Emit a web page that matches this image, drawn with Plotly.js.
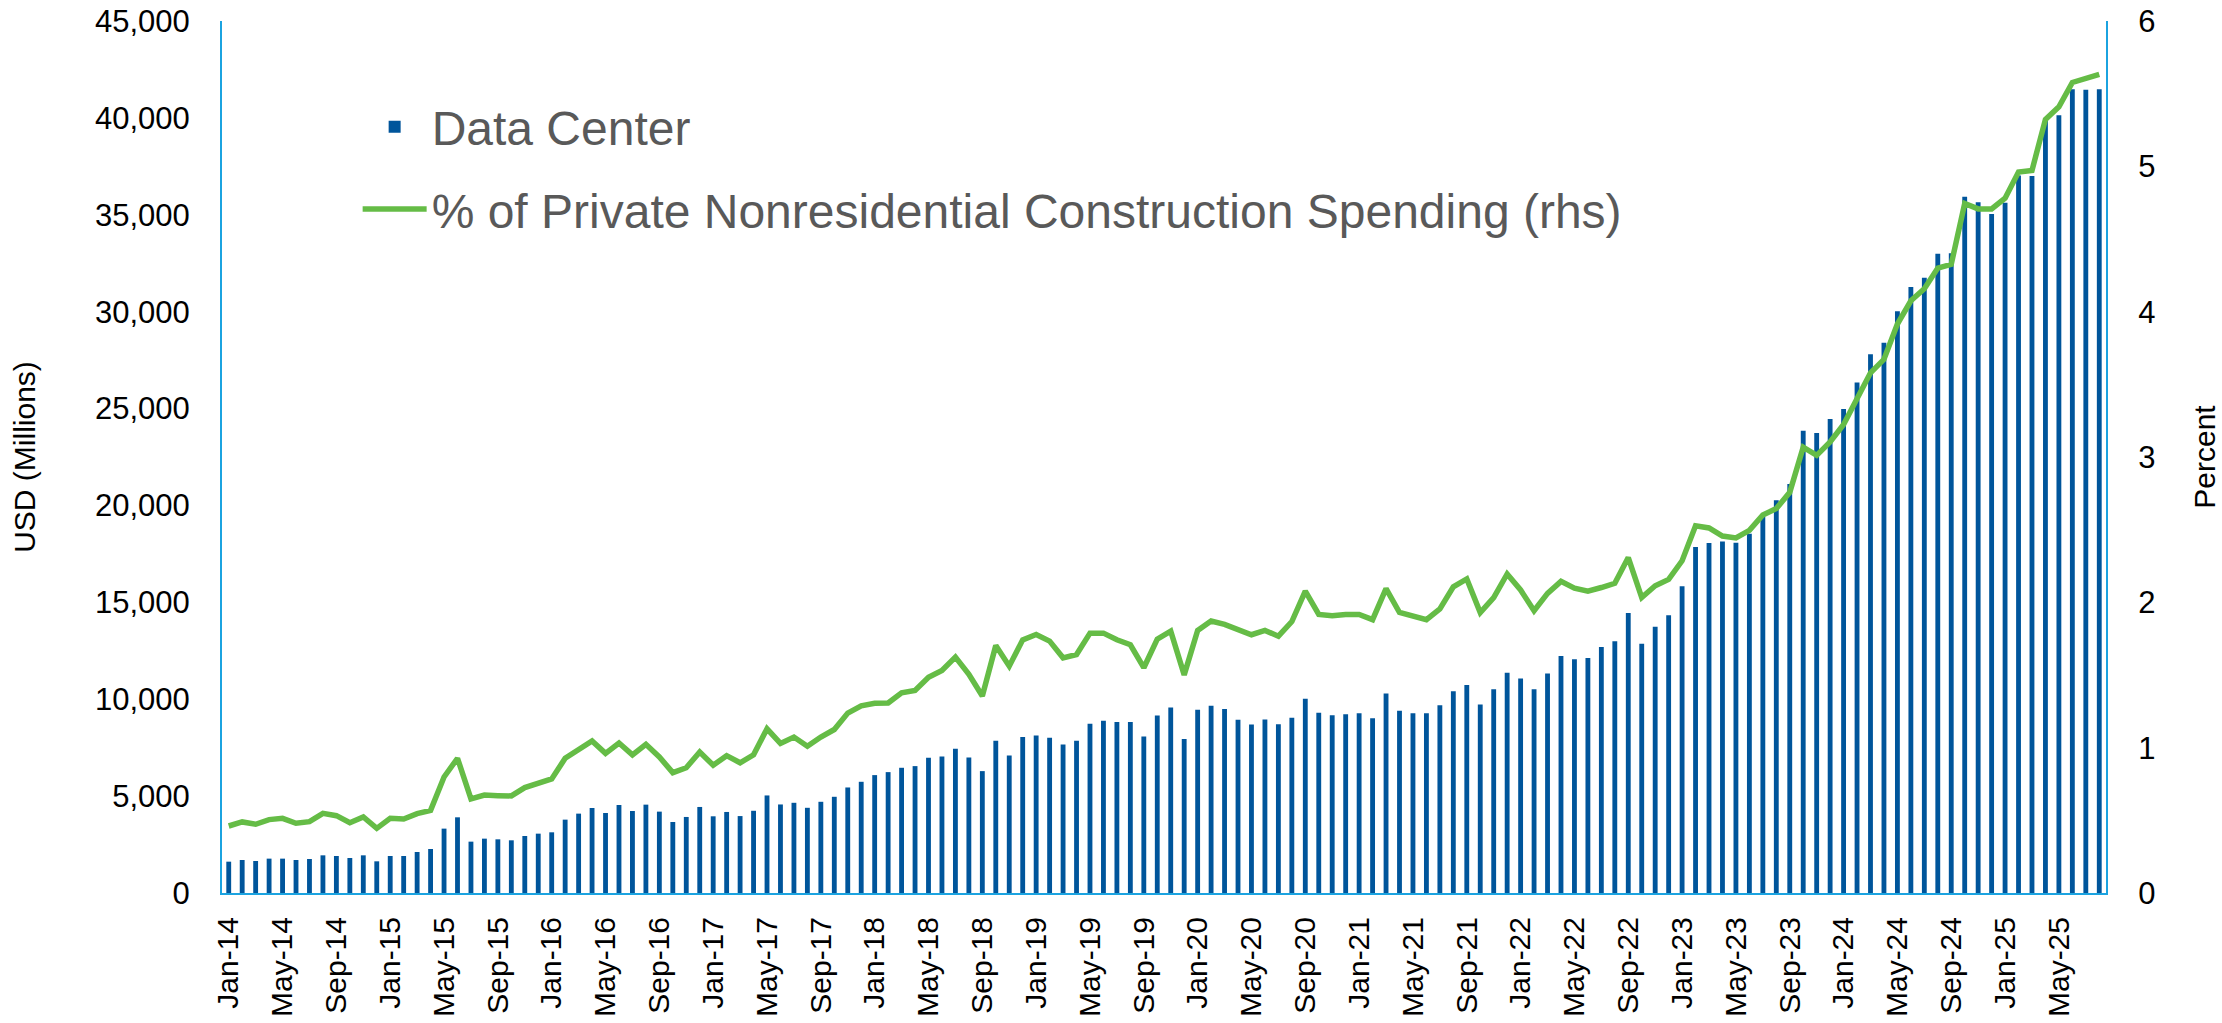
<!DOCTYPE html>
<html>
<head>
<meta charset="utf-8">
<script src="https://cdn.plot.ly/plotly-3.0.1.min.js"></script>
<style>
  html, body { margin: 0; padding: 0; background: #ffffff; }
  #chart { width: 2222px; height: 1023px; }
</style>
</head>
<body>
<div id="chart"></div>
<script>
// ---- Data ----
const monthNames = ["Jan","Feb","Mar","Apr","May","Jun","Jul","Aug","Sep","Oct","Nov","Dec"];
const years = ["14","15","16","17","18","19","20","21","22","23","24","25"];
const lastYearMonths = 8; // data runs through Aug-25

// Data Center construction spending, USD millions (left axis)
const dataCenter = [
  1617, 1704, 1652, 1773, 1773, 1704, 1755, 1944, 1910, 1807, 1944, 1635,
  1910, 1910, 2117, 2272, 3322, 3906, 2650, 2805, 2770, 2719, 2943, 3063,
  3132, 3786, 4096, 4388, 4130, 4543, 4233, 4560, 4199, 3665, 3924, 4440,
  3958, 4182, 3970, 4243, 5034, 4569, 4655, 4397, 4707, 4965, 5446, 5739,
  6084, 6238, 6462, 6548, 6978, 7047, 7442, 6995, 6290, 7855, 7098, 8045,
  8131, 8010, 7666, 7855, 8733, 8888, 8819, 8819, 8079, 9163, 9577, 7942,
  9456, 9662, 9491, 8939, 8690, 8948, 8708, 9041, 10018, 9299, 9170, 9225,
  9280, 9022, 10295, 9410, 9280, 9280, 9686, 10406, 10738, 9723, 10517, 11365,
  11070, 10517, 11328, 12232, 12066, 12122, 12694, 12989, 14446, 12860, 13745, 14336,
  15830, 17860, 18063, 18137, 18081, 18542, 19400, 20263, 21104, 23851, 23739, 24467,
  24972, 26345, 27803, 28391, 30017, 31278, 31755, 32988, 33016, 35930, 35650, 35034,
  35622, 37024, 37000, 39938, 40135, 41480, 41452, 41480
];

// % of private nonresidential construction spending (right axis)
const sharePct = [
  0.461, 0.489, 0.473, 0.505, 0.514, 0.480, 0.491, 0.548, 0.532, 0.484, 0.523, 0.445,
  0.514, 0.509, 0.546, 0.569, 0.798, 0.927, 0.647, 0.674, 0.670, 0.668, 0.725, 0.759,
  0.785, 0.927, 0.982, 1.046, 0.961, 1.032, 0.950, 1.023, 0.936, 0.828, 0.862, 0.970,
  0.879, 0.945, 0.896, 0.951, 1.130, 1.029, 1.073, 1.010, 1.073, 1.125, 1.238, 1.288,
  1.306, 1.308, 1.378, 1.394, 1.485, 1.531, 1.623, 1.504, 1.355, 1.703, 1.561, 1.742,
  1.779, 1.733, 1.618, 1.641, 1.788, 1.788, 1.742, 1.708, 1.550, 1.747, 1.802, 1.501,
  1.807, 1.871, 1.848, 1.811, 1.777, 1.807, 1.767, 1.868, 2.077, 1.917, 1.908, 1.917,
  1.917, 1.881, 2.094, 1.930, 1.910, 1.881, 1.954, 2.107, 2.161, 1.930, 2.033, 2.195,
  2.085, 1.942, 2.062, 2.144, 2.097, 2.077, 2.102, 2.131, 2.308, 2.033, 2.114, 2.158,
  2.286, 2.527, 2.512, 2.456, 2.443, 2.495, 2.601, 2.645, 2.757, 3.067, 3.011, 3.104,
  3.224, 3.392, 3.579, 3.672, 3.915, 4.075, 4.158, 4.300, 4.326, 4.744, 4.707, 4.707,
  4.781, 4.961, 4.972, 5.323, 5.409, 5.577, 5.603, 5.633
];

// Category labels (Mon-YY)
const categories = [];
years.forEach(function (yy, yi) {
  const n = (yi === years.length - 1) ? lastYearMonths : 12;
  for (let m = 0; m < n; m++) categories.push(monthNames[m] + "-" + yy);
});
// Tick labels shown: every 4th month starting Jan-14
const tickLabels = categories.filter(function (_, i) { return i % 4 === 0; });

const seriesNames = ["Data Center", "% of Private Nonresidential Construction Spending (rhs)"];

// ---- Styles ----
const BAR_COLOR = "#00559B";
const LINE_COLOR = "#65BC46";
const AXIS_COLOR = "#1BA3E0";
const CLEAR = "rgba(0,0,0,0)";
const FONT = "Arial, 'Liberation Sans', sans-serif";

const traces = [
  {
    type: "bar",
    name: seriesNames[0],
    x: categories,
    y: dataCenter,
    marker: { color: BAR_COLOR },
    yaxis: "y",
    legendgroup: "a"
  },
  {
    type: "scatter",
    mode: "lines",
    name: seriesNames[1],
    x: categories,
    y: sharePct,
    line: { color: LINE_COLOR, width: 5.5 },
    yaxis: "y2",
    legendgroup: "b"
  }
];

const layout = {
  width: 2222,
  height: 1023,
  paper_bgcolor: "#ffffff",
  plot_bgcolor: "#ffffff",
  font: { family: FONT, size: 31, color: "#000000" },
  margin: { l: 222, r: 116, t: 21, b: 130, pad: 0 },
  bargap: 0.64,
  showlegend: true,
  legend: {
    x: 0.072,
    y: 0.922,
    xanchor: "left",
    yanchor: "top",
    bgcolor: CLEAR,
    font: { family: FONT, size: 48, color: "#595959" },
    traceorder: "grouped",
    tracegroupgap: 17,
    itemwidth: 64
  },
  xaxis: {
    type: "category",
    categoryorder: "array",
    categoryarray: categories,
    tickmode: "array",
    tickvals: tickLabels,
    ticktext: tickLabels,
    tickangle: -90,
    tickfont: { family: FONT, size: 30, color: "#000000" },
    ticks: "outside",
    ticklen: 10,
    tickcolor: CLEAR,
    showgrid: false,
    zeroline: false,
    showline: true,
    linecolor: AXIS_COLOR,
    linewidth: 2,
    automargin: false
  },
  yaxis: {
    range: [0, 45000],
    dtick: 5000,
    tick0: 0,
    tickformat: ",d",
    tickfont: { family: FONT, size: 31, color: "#000000" },
    ticks: "outside",
    ticklen: 24,
    tickcolor: CLEAR,
    showgrid: false,
    zeroline: false,
    showline: true,
    linecolor: AXIS_COLOR,
    linewidth: 2,
    automargin: false,
    title: { text: "USD (Millions)", font: { family: FONT, size: 30, color: "#000000" }, standoff: 50 }
  },
  yaxis2: {
    overlaying: "y",
    side: "right",
    range: [0, 6],
    dtick: 1,
    tick0: 0,
    tickfont: { family: FONT, size: 31, color: "#000000" },
    ticks: "outside",
    ticklen: 24,
    tickcolor: CLEAR,
    showgrid: false,
    zeroline: false,
    showline: true,
    linecolor: AXIS_COLOR,
    linewidth: 2,
    automargin: false,
    title: { text: "Percent", font: { family: FONT, size: 30, color: "#000000" }, standoff: 40 }
  }
};

Plotly.newPlot("chart", traces, layout, { displayModeBar: false, staticPlot: true });
</script>
</body>
</html>
